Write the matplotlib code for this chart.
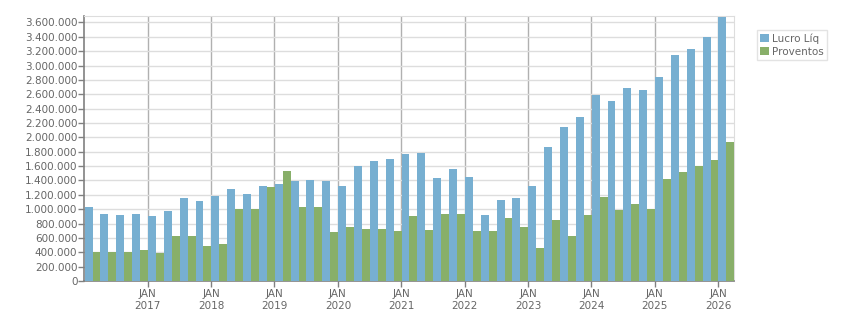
import numpy as np
import matplotlib
matplotlib.use('Agg')
import matplotlib.pyplot as plt
from matplotlib.ticker import FuncFormatter, MultipleLocator

# trimestres de 2016T1 a 2026T1
quarters = [2016 + i * 0.25 for i in range(41)]

lucro_liq = [1031, 934, 920, 934, 906, 975, 1157, 1115, 1184, 1282, 1212, 1324,
             1352, 1394, 1407, 1394, 1324, 1603, 1672, 1700, 1770, 1784, 1435, 1561,
             1449, 920, 1129, 1157, 1324, 1867, 2146, 2285, 2592, 2508, 2690, 2662,
             2843, 3149, 3233, 3400, 3680]
proventos = [404, 404, 404, 432, 390, 627, 627, 488, 516, 1003, 1003, 1310,
             1533, 1031, 1031, 683, 752, 725, 725, 697, 906, 711, 934, 934,
             697, 697, 878, 752, 460, 850, 627, 920, 1171, 989, 1073, 1003,
             1421, 1519, 1603, 1686, 1937]
lucro_liq = [v * 1000 for v in lucro_liq]
proventos = [v * 1000 for v in proventos]

years = list(range(2017, 2027))
year_labels = [f'JAN\n{y}' for y in years]

blue = '#77afd1'
green = '#88af69'
txt = '#666666'

fig = plt.figure(figsize=(8.51, 3.13), dpi=100)
ax = fig.add_axes([0.0991, 0.1022, 0.7631, 0.8467])

x = np.array(quarters)
w = 0.25 / 2
ax.bar(x + 0.004, lucro_liq, width=w, align='edge', color=blue, label='Lucro Líq', zorder=3)
ax.bar(x + 0.004 + w, proventos, width=w, align='edge', color=green, label='Proventos', zorder=3)

ax.set_xlim(2016.0, 2026.245)
ax.set_ylim(0, 3690000)

ax.yaxis.set_major_locator(MultipleLocator(200000))
ax.yaxis.set_major_formatter(FuncFormatter(lambda v, p: f'{int(v):,}'.replace(',', '.')))
ax.set_xticks(years)
ax.set_xticklabels(year_labels)

ax.grid(axis='y', color='#dddddd', linewidth=1, zorder=0)
ax.grid(axis='x', color='#b0b0b0', linewidth=1, zorder=0)

for s in ['top', 'right']:
    ax.spines[s].set_color('#dddddd')
for s in ['left', 'bottom']:
    ax.spines[s].set_color('#808080')
    ax.spines[s].set_linewidth(1.2)

ax.tick_params(axis='both', colors='#808080', labelcolor=txt, labelsize=7.5, length=4, width=1)
ax.tick_params(axis='y', pad=1)
ax.tick_params(axis='x', pad=2)

leg = ax.legend(loc='upper left', bbox_to_anchor=(1.036, 0.947), fontsize=7.5,
                frameon=True, fancybox=False, handlelength=0.8, handleheight=0.8,
                handletextpad=0.3, borderpad=0.3, labelspacing=0.3, borderaxespad=0)
leg.get_frame().set_edgecolor('#dddddd')
for t in leg.get_texts():
    t.set_color(txt)

fig.savefig('out.png', dpi=100)
